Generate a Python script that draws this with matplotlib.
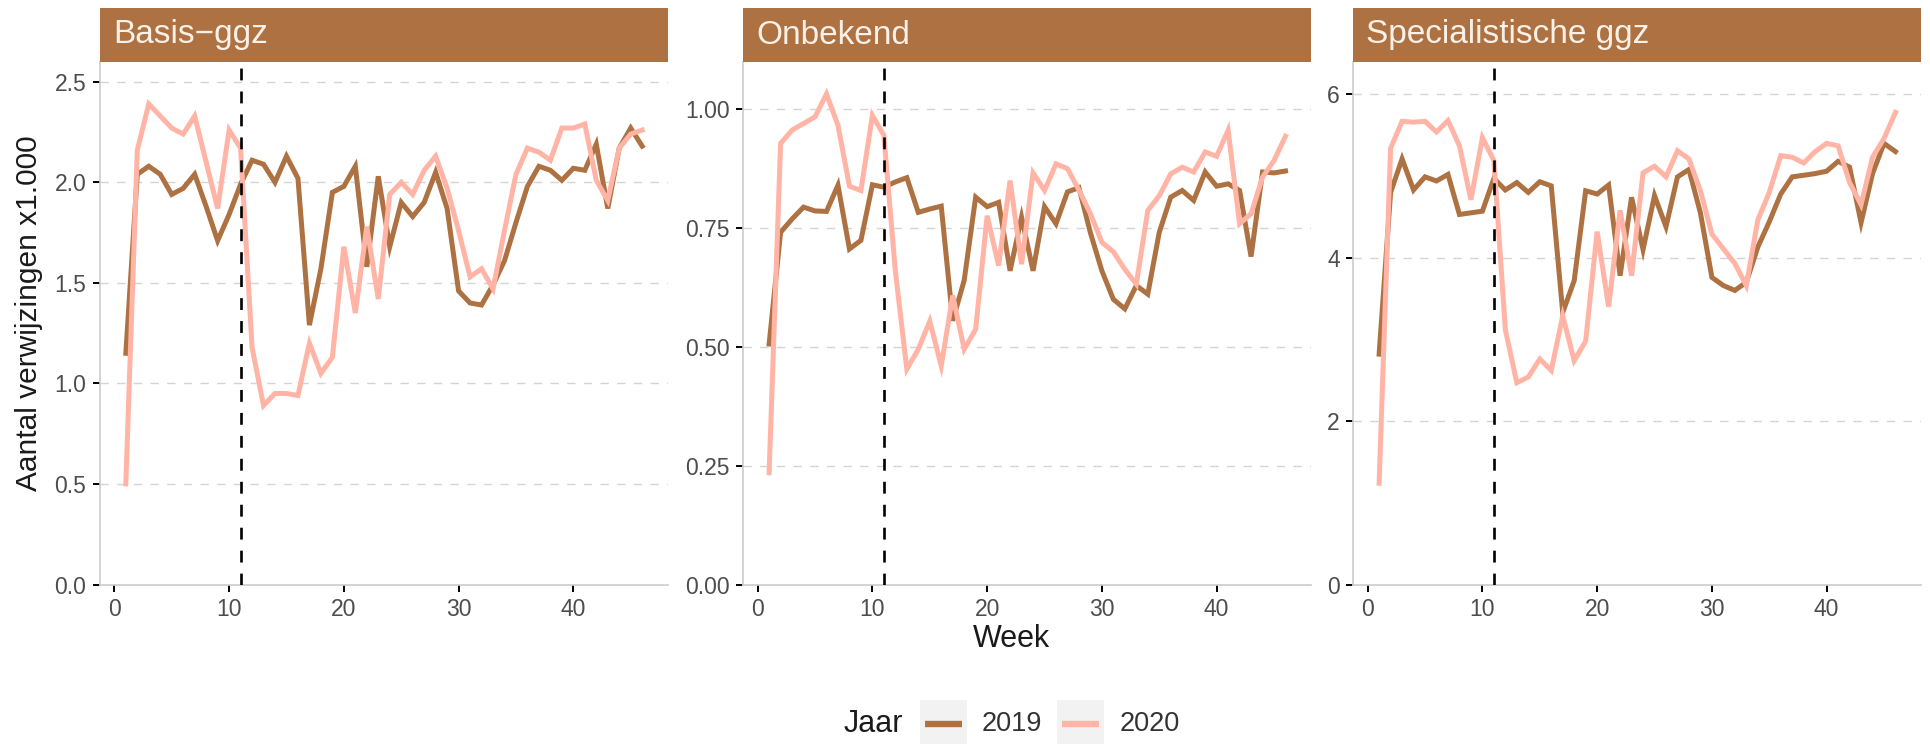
import matplotlib.pyplot as plt
from matplotlib.lines import Line2D
from matplotlib.patches import Rectangle

plt.rcParams['font.family'] = ['Liberation Sans', 'DejaVu Sans']

weeks = list(range(1, 47))
panels = ['Basis\u2212ggz', 'Onbekend', 'Specialistische ggz']
years = ['2019', '2020']

basis_2019 = [1.15, 2.04, 2.08, 2.04, 1.94, 1.97, 2.04, 1.88, 1.71, 1.84,
              1.99, 2.11, 2.09, 2.00, 2.13, 2.02, 1.29, 1.57, 1.95, 1.98,
              2.08, 1.58, 2.03, 1.68, 1.90, 1.83, 1.90, 2.05, 1.87, 1.46,
              1.40, 1.39, 1.49, 1.61, 1.80, 1.98, 2.08, 2.06, 2.01, 2.07,
              2.06, 2.19, 1.87, 2.17, 2.27, 2.18]
basis_2020 = [0.50, 2.16, 2.39, 2.33, 2.27, 2.24, 2.33, 2.10, 1.87, 2.26,
              2.17, 1.18, 0.89, 0.95, 0.95, 0.94, 1.20, 1.05, 1.13, 1.68,
              1.35, 1.78, 1.42, 1.94, 2.00, 1.94, 2.06, 2.13, 1.97, 1.76,
              1.53, 1.57, 1.47, 1.76, 2.04, 2.17, 2.15, 2.11, 2.27, 2.27,
              2.29, 2.01, 1.91, 2.17, 2.24, 2.26]

onbekend_2019 = [0.506, 0.741, 0.769, 0.794, 0.786, 0.785, 0.840, 0.706, 0.724, 0.841,
                 0.836, 0.847, 0.856, 0.783, 0.790, 0.796, 0.555, 0.640, 0.815, 0.795,
                 0.804, 0.660, 0.773, 0.660, 0.795, 0.759, 0.826, 0.835, 0.740, 0.660,
                 0.600, 0.580, 0.629, 0.611, 0.741, 0.815, 0.829, 0.808, 0.868, 0.838,
                 0.843, 0.829, 0.690, 0.868, 0.866, 0.870]
onbekend_2020 = [0.235, 0.928, 0.956, 0.970, 0.984, 1.032, 0.966, 0.838, 0.829, 0.987,
                 0.945, 0.660, 0.453, 0.495, 0.554, 0.460, 0.608, 0.495, 0.537, 0.776,
                 0.671, 0.850, 0.674, 0.866, 0.829, 0.885, 0.875, 0.830, 0.780, 0.720,
                 0.700, 0.663, 0.632, 0.787, 0.818, 0.864, 0.878, 0.868, 0.910, 0.901,
                 0.956, 0.759, 0.780, 0.857, 0.892, 0.943]

spec_2019 = [2.82, 4.80, 5.21, 4.83, 4.99, 4.94, 5.02, 4.53, 4.55, 4.57,
             4.97, 4.83, 4.92, 4.80, 4.93, 4.88, 3.33, 3.72, 4.82, 4.78,
             4.89, 3.78, 4.74, 4.10, 4.76, 4.38, 4.99, 5.08, 4.55, 3.76,
             3.66, 3.60, 3.70, 4.13, 4.44, 4.78, 4.99, 5.01, 5.03, 5.06,
             5.18, 5.11, 4.43, 5.03, 5.40, 5.30]
spec_2020 = [1.24, 5.34, 5.67, 5.66, 5.67, 5.54, 5.68, 5.37, 4.71, 5.47,
             5.19, 3.12, 2.47, 2.54, 2.76, 2.62, 3.29, 2.74, 2.98, 4.32,
             3.40, 4.58, 3.78, 5.04, 5.12, 4.99, 5.31, 5.21, 4.82, 4.29,
             4.11, 3.93, 3.66, 4.46, 4.80, 5.25, 5.23, 5.16, 5.30, 5.40,
             5.37, 4.92, 4.65, 5.23, 5.46, 5.78]

series_2019 = [basis_2019, onbekend_2019, spec_2019]
series_2020 = [basis_2020, onbekend_2020, spec_2020]
y_tops = [2.60, 1.10, 6.40]
y_ticks = [[0, 0.5, 1.0, 1.5, 2.0, 2.5],
           [0, 0.25, 0.50, 0.75, 1.00],
           [0, 2, 4, 6]]
y_fmt = ['{:.1f}', '{:.2f}', '{:.0f}']
x_ticks = [0, 10, 20, 30, 40]
lockdown_week = 11

brown = '#AD7142'
pink = '#FFB4A6'
colors = [brown, pink]

W, H = 1930, 744


def rect(left, top, right, bottom):
    return [left / W, 1 - bottom / H, (right - left) / W, (bottom - top) / H]


def fx(px):
    return px / W


def fy(py):
    return 1 - py / H


fig = plt.figure(figsize=(W / 100, H / 100), dpi=100)

lefts = [100, 743.3, 1353.3]
panel_w = 568
for i in range(3):
    l = lefts[i]
    ax = fig.add_axes(rect(l, 61.7, l + panel_w, 584.5))
    for g in y_ticks[i][1:]:
        ax.axhline(g, color='#D4D4D4', lw=1.0, ls=(0, (6, 6)), zorder=0)
    ax.plot(weeks, series_2019[i], color=brown, lw=3.6, solid_joinstyle='miter', zorder=2)
    ax.plot(weeks, series_2020[i], color=pink, lw=3.6, solid_joinstyle='miter', zorder=3)
    ax.axvline(lockdown_week, color='black', lw=1.9, ls=(0, (4.5, 4.2)), zorder=4)
    ax.set_xlim(-1.25, 48.25)
    ax.set_ylim(0, y_tops[i])
    ax.set_xticks(x_ticks)
    ax.set_yticks(y_ticks[i])
    ax.set_yticklabels([y_fmt[i].format(v) for v in y_ticks[i]])
    for s in ['top', 'right']:
        ax.spines[s].set_visible(False)
    for s in ['left', 'bottom']:
        ax.spines[s].set_color('#CCCCCC')
        ax.spines[s].set_linewidth(1.2)
    ax.tick_params(length=4.8, width=1.4, color='black', labelcolor='#4D4D4D',
                   labelsize=16.5, pad=5)

    strip = fig.add_axes(rect(l, 8.3, l + panel_w, 61.7))
    strip.set_facecolor(brown)
    strip.set_xticks([])
    strip.set_yticks([])
    for s in strip.spines.values():
        s.set_visible(False)
    strip.text(13 / panel_w, 0.5, panels[i], color='#FBF1E8', fontsize=24,
               ha='left', va='center', transform=strip.transAxes)

fig.text(fx(29), fy(313), 'Aantal verwijzingen x1.000', rotation=90,
         ha='center', va='center', fontsize=21.5, color='#1A1A1A')
fig.text(fx(1011), fy(639), 'Week', ha='center', va='center',
         fontsize=22, color='#1A1A1A')

# legend: title + gray key boxes + labels
fig.text(fx(903), fy(724), 'Jaar', ha='right', va='center', fontsize=22, color='#1A1A1A')
box_lefts = [920, 1057.3]
for k in range(2):
    b = box_lefts[k]
    fig.add_artist(Rectangle((fx(b), fy(747)), 46.7 / W, 46.7 / H,
                             transform=fig.transFigure, facecolor='#F2F2F2',
                             edgecolor='none'))
    fig.add_artist(Line2D([fx(b + 5), fx(b + 42)], [fy(724), fy(724)],
                          transform=fig.transFigure, color=colors[k], lw=4.6,
                          solid_capstyle='butt'))
    fig.text(fx(b + 62), fy(724), years[k], ha='left', va='center',
             fontsize=19.5, color='#333333')

fig.savefig('out.png', dpi=100)
